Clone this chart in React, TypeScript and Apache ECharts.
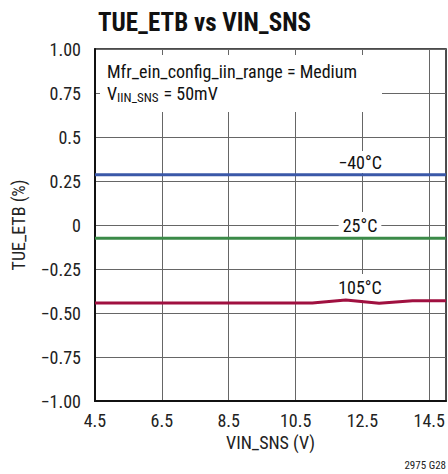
import React, { useEffect, useRef } from "react";
import * as echarts from "echarts";

const xTickValues = [4.5, 6.5, 8.5, 10.5, 12.5, 14.5];
const yTickLabels = ["−1.00", "−0.75", "−0.50", "−0.25", "0", "0.25", "0.5", "0.75", "1.00"];
const yTickValues = [-1, -0.75, -0.5, -0.25, 0, 0.25, 0.5, 0.75, 1];

const xMinus40 = [4.5, 15];
const yMinus40 = [0.285, 0.285];
const x25 = [4.5, 15];
const y25 = [-0.075, -0.075];
const x105 = [4.5, 6.5, 8.5, 10.5, 11, 12, 13, 14, 15];
const y105 = [-0.443, -0.443, -0.443, -0.443, -0.443, -0.426, -0.445, -0.43, -0.43];

const FONT = "'Liberation Sans Narrow', 'Roboto Condensed', 'Liberation Sans', sans-serif";

function pairs(xs: number[], ys: number[]) {
  return xs.map((x, i) => [x, ys[i]]);
}

export default function App() {
  const ref = useRef<HTMLDivElement>(null);
  useEffect(() => {
    if (!ref.current) return;
    const chart = echarts.init(ref.current, null, { renderer: "svg" });
    const grid = { left: 95, top: 49, right: 1, bottom: 73 };
    chart.setOption({
      animation: false,
      backgroundColor: "#fff",
      textStyle: { fontFamily: FONT },
      title: {
        text: "TUE_ETB vs VIN_SNS",
        left: 93,
        top: 5,
        textStyle: { fontFamily: FONT, fontWeight: "bold", fontSize: 25, color: "#111" },
      },
      grid: { ...grid, show: true, borderColor: "#111", borderWidth: 1.5, backgroundColor: "transparent" },
      xAxis: {
        type: "value",
        min: 4.5,
        max: 15,
        name: "VIN_SNS (V)",
        nameLocation: "middle",
        nameGap: 28,
        nameTextStyle: { fontFamily: FONT, fontSize: 18, color: "#222" },
        axisLine: { show: true, onZero: false, lineStyle: { color: "#111", width: 2 } },
        axisTick: { show: false, customValues: xTickValues },
        axisLabel: {
          customValues: xTickValues,
          fontFamily: FONT,
          fontSize: 18,
          color: "#222",
          margin: 10,
          formatter: (v: number) => v.toFixed(1),
        },
        splitLine: { show: true, lineStyle: { color: "#666", width: 1 } },
      },
      yAxis: {
        type: "value",
        min: -1,
        max: 1,
        interval: 0.25,
        name: "TUE_ETB (%)",
        nameLocation: "middle",
        nameGap: 68,
        nameTextStyle: { fontFamily: FONT, fontSize: 18, color: "#222" },
        axisLine: { show: true, onZero: false, lineStyle: { color: "#111", width: 2 } },
        axisTick: { show: false },
        axisLabel: {
          fontFamily: FONT,
          fontSize: 18,
          color: "#222",
          margin: 14,
          formatter: (v: number) => {
            const i = yTickValues.findIndex((t) => Math.abs(t - v) < 1e-6);
            return i >= 0 ? yTickLabels[i] : "";
          },
        },
        splitLine: { show: true, lineStyle: { color: "#666", width: 1 } },
      },
      series: [
        {
          name: "−40°C",
          type: "line",
          data: pairs(xMinus40, yMinus40),
          showSymbol: false,
          lineStyle: { color: "#3a58a8", width: 3 },
          z: 3,
        },
        {
          name: "25°C",
          type: "line",
          data: pairs(x25, y25),
          showSymbol: false,
          lineStyle: { color: "#3b8a48", width: 3 },
          z: 3,
        },
        {
          name: "105°C",
          type: "line",
          data: pairs(x105, y105),
          showSymbol: false,
          lineStyle: { color: "#a01040", width: 3 },
          z: 3,
        },
      ],
      graphic: [
        {
          type: "rect",
          z: 1,
          shape: { x: 100, y: 55, width: 282, height: 57 },
          style: { fill: "#fff" },
        },
        {
          type: "text",
          z: 2,
          x: 107,
          y: 71,
          style: {
            text: "Mfr_ein_config_iin_range = Medium",
            font: `18px ${FONT}`,
            fill: "#111",
            verticalAlign: "middle",
          },
        },
        {
          type: "text",
          z: 2,
          x: 107,
          y: 82,
          style: {
            text: "{n|V}{s|IIN_SNS}{n| = 50mV}",
            fill: "#111",
            rich: {
              n: { fontFamily: FONT, fontSize: 18, lineHeight: 22, verticalAlign: "middle", fill: "#111" },
              s: { fontFamily: FONT, fontSize: 13, lineHeight: 13, verticalAlign: "bottom", fill: "#111", padding: [0, 1, 0, 0] },
            },
          },
        },
        {
          type: "text",
          z: 2,
          x: 360,
          y: 162,
          style: {
            text: "−40°C",
            font: `18px ${FONT}`,
            fill: "#111",
            align: "center",
            verticalAlign: "middle",
            backgroundColor: "#fff",
            padding: [2, 4, 2, 4],
          },
        },
        {
          type: "text",
          z: 2,
          x: 360,
          y: 225,
          style: {
            text: "25°C",
            font: `18px ${FONT}`,
            fill: "#111",
            align: "center",
            verticalAlign: "middle",
            backgroundColor: "#fff",
            padding: [4, 4, 4, 4],
          },
        },
        {
          type: "text",
          z: 2,
          x: 360,
          y: 287,
          style: {
            text: "105°C",
            font: `18px ${FONT}`,
            fill: "#111",
            align: "center",
            verticalAlign: "middle",
            backgroundColor: "#fff",
            padding: [4, 4, 4, 4],
          },
        },
        {
          type: "text",
          z: 2,
          right: 2,
          bottom: 3,
          style: {
            text: "2975 G28",
            font: `11px ${FONT}`,
            fill: "#222",
          },
        },
      ],
    });
    return () => chart.dispose();
  }, []);
  return (
    <div
      ref={ref}
      style={{ position: "fixed", left: 0, top: 0, width: 448, height: 474, background: "#fff" }}
    />
  );
}
